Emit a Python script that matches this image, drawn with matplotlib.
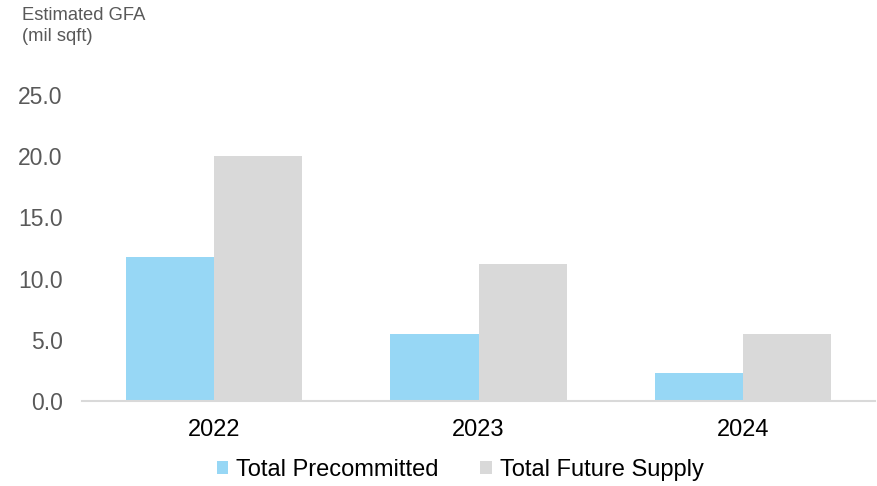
import matplotlib
matplotlib.use("Agg")
import matplotlib.pyplot as plt
import numpy as np

plt.rcParams['font.family'] = ['Liberation Sans', 'DejaVu Sans']

years = ["2022", "2023", "2024"]
precommitted = [11.8, 5.5, 2.3]
future_supply = [20.0, 11.2, 5.5]
yticks = [0, 5, 10, 15, 20, 25]

fig = plt.figure(figsize=(8.78, 4.86), dpi=100)
ax = fig.add_axes([0.0934, 0.175, 0.9032, 0.6296])

x = np.arange(len(years))
w = 0.333
ax.bar(x - w/2, precommitted, w, color="#97D7F5", label="Total Precommitted", zorder=2)
ax.bar(x + w/2, future_supply, w, color="#D9D9D9", label="Total Future Supply", zorder=2)

ax.set_xlim(-0.5, 2.5)
ax.set_ylim(0, 25)
ax.set_yticks(yticks)
ax.set_yticklabels([f"{v:.1f}" for v in yticks], color="#595959", fontsize=16.5)
ax.set_xticks(x)
ax.set_xticklabels(years, fontsize=17, color="black")
ax.tick_params(axis='both', length=0)
ax.tick_params(axis='y', pad=14)
ax.tick_params(axis='x', pad=13)
for s in ["top", "right", "left"]:
    ax.spines[s].set_visible(False)
ax.spines["bottom"].set_color("#D9D9D9")
ax.spines["bottom"].set_linewidth(1.5)

fig.text(0.025, 0.985, "Estimated GFA\n(mil sqft)", ha="left", va="top",
         fontsize=13.2, color="#595959", linespacing=1.3)

leg = fig.legend(loc="center", bbox_to_anchor=(0.524, 0.033), ncol=2, frameon=False,
                 fontsize=17, handlelength=0.5, handleheight=0.5, handletextpad=0.34,
                 columnspacing=1.74, borderpad=0, borderaxespad=0)

fig.savefig("out.png", dpi=100)
